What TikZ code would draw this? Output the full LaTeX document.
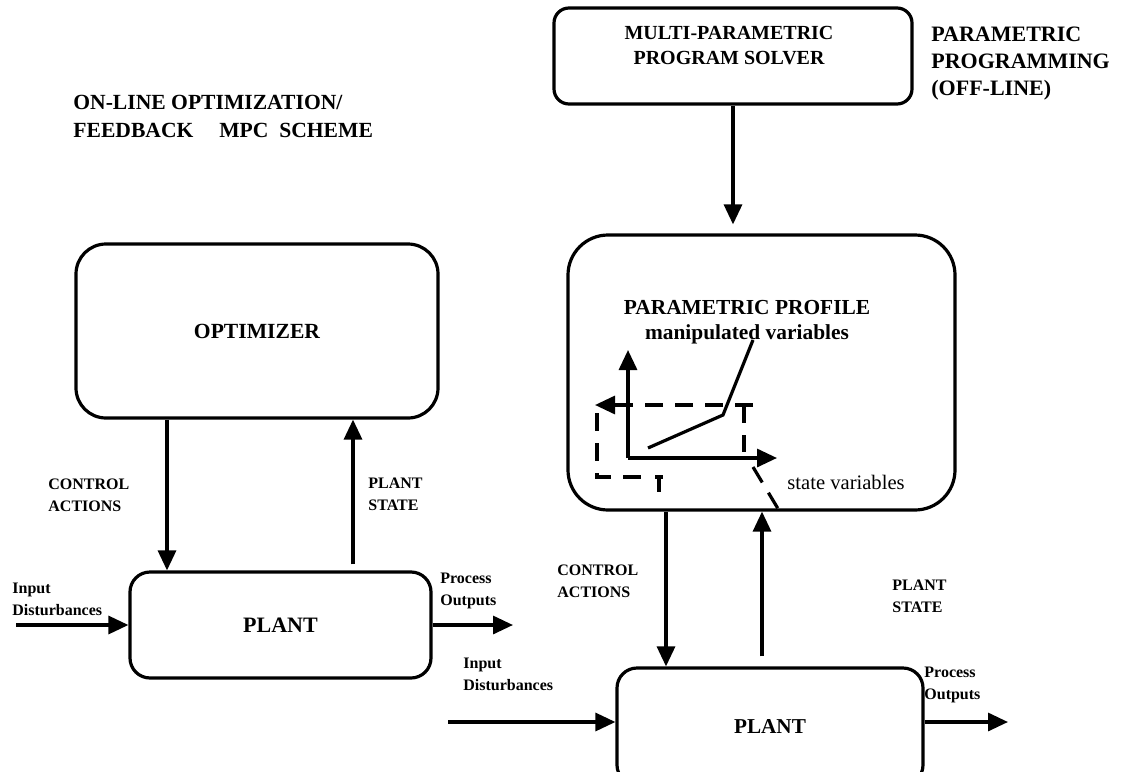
\documentclass[tikz,border=0pt]{standalone}
\usepackage{fontspec}
\setmainfont{Liberation Serif}
\usetikzlibrary{arrows.meta}

\begin{document}
\begin{tikzpicture}[x=0.5pt, y=-0.5pt, >={Triangle[length=10pt,width=9pt]},
    block/.style={rectangle, rounded corners=#1, draw, line width=1.6pt, align=center, inner sep=0pt},
    block/.default=10pt,
    arrow/.style={->, line width=1.6pt},
    dashline/.style={line width=1.6pt, dash pattern=on 9pt off 6pt},
    head/.style={anchor=north west, align=left, inner sep=0pt, font=\fontsize{10.8}{14}\selectfont\bfseries},
    lbl/.style={anchor=north west, align=left, inner sep=0pt, font=\fontsize{8}{11}\selectfont\bfseries}]
    \useasboundingbox (0,0) rectangle (1124,771);

    % on-line scheme
    \node[head] (hdL) at (73,95) {ON-LINE OPTIMIZATION/\\FEEDBACK\hspace{1.2em}MPC\hspace{0.5em}SCHEME};
    \node[block=15pt, minimum width=181pt, minimum height=87pt, font=\fontsize{10.8}{13}\selectfont\bfseries] (opt) at (257,331) {OPTIMIZER};
    \node[block=10pt, minimum width=150.5pt, minimum height=53pt, font=\fontsize{11}{13}\selectfont\bfseries] (plantL) at (280.5,625) {PLANT};
    \node[lbl] (caL) at (48,478) {CONTROL\\ACTIONS};
    \node[lbl] (psL) at (368,478) {PLANT\\STATE};
    \node[lbl] (inL) at (12,583) {Input\\Disturbances};
    \node[lbl] (poL) at (440,573) {Process\\Outputs};
    \coordinate (xcaL) at (167,0);
    \coordinate (xpsL) at (353,0);
    \coordinate (inLs) at (16,625);
    \coordinate (poLe) at (513,625);

    \draw[arrow] (opt.south -| xcaL) -- (plantL.north -| xcaL);
    \draw[arrow, shorten <=3pt] (plantL.north -| xpsL) -- (opt.south -| xpsL);
    \draw[arrow] (inLs) -- (plantL.west |- inLs);
    \draw[arrow] (plantL.east |- poLe) -- (poLe);

    % parametric scheme
    \node[head, font=\fontsize{11}{13.5}\selectfont\bfseries] (hdR) at (931,27) {PARAMETRIC\\PROGRAMMING\\(OFF-LINE)};
    \node[block=7.5pt, minimum width=179pt, minimum height=48pt] (solver) at (733,56) {};
    \node[align=center, inner sep=0pt, font=\fontsize{10}{12.5}\selectfont\bfseries] (solverTxt) at (729,46) {MULTI-PARAMETRIC\\PROGRAM SOLVER};
    \node[block=20pt, minimum width=193.5pt, minimum height=137.5pt] (profile) at (761.5,372.5) {};
    \node[anchor=north, align=center, inner sep=0pt, font=\fontsize{10.7}{12.5}\selectfont\bfseries] (profTxt) at (747,300) {PARAMETRIC PROFILE\\manipulated variables};
    \node[anchor=north west, inner sep=0pt, font=\fontsize{10.3}{13}\selectfont] (stTxt) at (787,475) {state variables};
    \node[block=10pt, minimum width=153pt, minimum height=58.5pt, font=\fontsize{10.6}{13}\selectfont\bfseries] (plantR) at (770,726.5) {PLANT};
    \node[lbl] (caR) at (557,564) {CONTROL\\ACTIONS};
    \node[lbl] (psR) at (892,580) {PLANT\\STATE};
    \node[lbl] (inR) at (463,658) {Input\\Disturbances};
    \node[lbl] (poR) at (924,667) {Process\\Outputs};
    \coordinate (xcaR) at (666,0);
    \coordinate (xpsR) at (762,0);
    \coordinate (inRs) at (448,722);
    \coordinate (poRe) at (1008,722);

    \draw[arrow, shorten >=4.5pt] (solver.south) -- (profile.north -| solver.south);
    \draw[arrow] (profile.south -| xcaR) -- (plantR.north -| xcaR);
    \draw[arrow, shorten <=5pt] (plantR.north -| xpsR) -- (profile.south -| xpsR);
    \draw[arrow] (inRs) -- (plantR.west |- inRs);
    \draw[arrow] (plantR.east |- poRe) -- (poRe);

    % profile sketch
    \coordinate (org) at (628,458);
    \coordinate (yax) at (628,350);
    \coordinate (xax) at (777,458);
    \draw[arrow] (org) -- (yax);
    \draw[arrow] (org) -- (xax);
    \draw[line width=1.6pt] (648,448) -- (723,415) -- (753,340);
    \draw[dashline, ->] (753,405) -- (595,405);
    \draw[dashline] (744,405) -- (744,452);
    \draw[dashline] (597,413) -- (597,477) -- (645,477);
    \draw[line width=1.6pt] (655,477) -- (663,477);
    \draw[line width=1.6pt] (659,477) -- (659,492);
    \draw[dashline] (753,467) -- (780,512);
\end{tikzpicture}
\end{document}
